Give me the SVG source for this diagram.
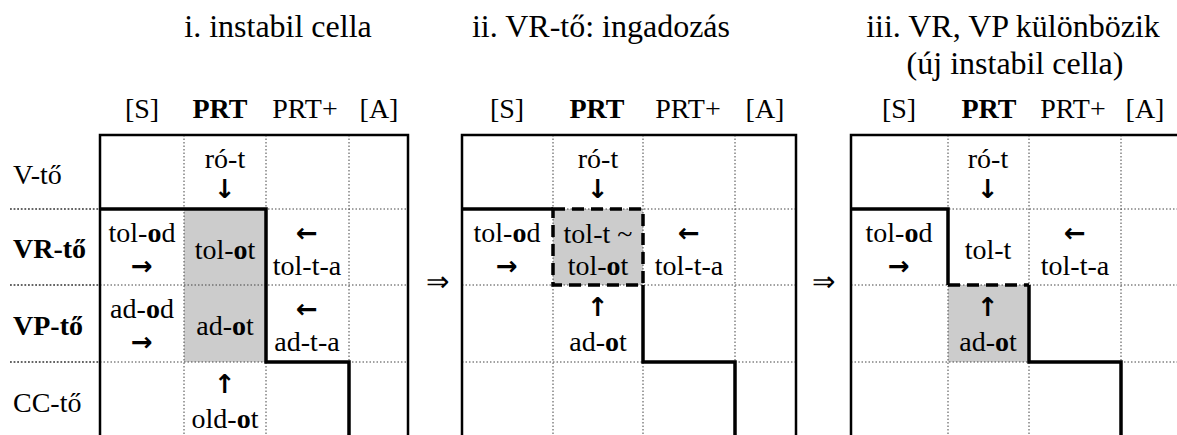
<svg xmlns="http://www.w3.org/2000/svg" width="1177" height="435" viewBox="0 0 1177 435" font-family="'Liberation Serif', 'Times New Roman', serif">
<style>
text{font-family:'Liberation Serif','Times New Roman',serif;font-size:28px;fill:#000}
.t{font-size:32px}
.c{text-anchor:middle}
.b{font-weight:bold}
.ar{font-family:'DejaVu Sans',sans-serif;font-weight:bold;font-size:26px;text-anchor:middle}
.dot{stroke:#444;stroke-width:1;stroke-dasharray:1.5 2;fill:none}
.dotL{stroke:#333;stroke-width:1.4;stroke-dasharray:1.8 1.8;fill:none}
.bd{stroke:#000;stroke-width:2.5;fill:none}
.st{stroke:#000;stroke-width:3.5;fill:none;stroke-linejoin:miter}
.ds{stroke:#000;stroke-width:3.5;fill:none;stroke-dasharray:12 7}
.sh{fill:#cccccc}
</style>

<g id="titles">
<text class="t c" x="278" y="37">i. instabil cella</text>
<text class="t c" x="601" y="37">ii. VR-tő: ingadozás</text>
<text class="t c" x="1013" y="37">iii. VR, VP különbözik</text>
<text class="t c" x="1015" y="74">(új instabil cella)</text>
</g>

<g id="row-labels">
<line class="dotL" x1="10" y1="209" x2="100" y2="209"/>
<line class="dotL" x1="10" y1="285" x2="100" y2="285"/>
<line class="dotL" x1="10" y1="362" x2="100" y2="362"/>
<text x="13" y="184">V-tő</text>
<text class="b" x="13" y="258">VR-tő</text>
<text class="b" x="13" y="335">VP-tő</text>
<text x="13" y="412">CC-tő</text>
</g>

<g id="panel1">
<rect class="sh" x="184" y="209" width="82" height="153"/>
<line class="dot" x1="184" y1="135" x2="184" y2="435"/>
<line class="dot" x1="266" y1="135" x2="266" y2="435"/>
<line class="dot" x1="349" y1="135" x2="349" y2="435"/>
<line class="dot" x1="100" y1="209" x2="408" y2="209"/>
<line class="dot" x1="100" y1="285" x2="408" y2="285"/>
<line class="dot" x1="100" y1="362" x2="408" y2="362"/>
<path class="bd" d="M100,435 V135 H408 V435"/>
<path class="st" d="M100,209 H266 V362 H349 V435"/>
<text class="c" x="142" y="118">[S]</text>
<text class="c b" x="220" y="118">PRT</text>
<text class="c" x="305" y="118">PRT+</text>
<text class="c" x="379" y="118">[A]</text>
<text class="c" x="225" y="168">ró-t</text>
<text class="ar" x="225" y="198">↓</text>
<text class="c" x="142" y="242">tol-<tspan class="b">o</tspan>d</text>
<text class="ar" x="142" y="275">→</text>
<text class="c" x="225" y="259">tol-<tspan class="b">o</tspan>t</text>
<text class="ar" x="307" y="242">←</text>
<text class="c" x="307" y="275">tol-t-a</text>
<text class="c" x="142" y="318">ad-<tspan class="b">o</tspan>d</text>
<text class="ar" x="142" y="351">→</text>
<text class="c" x="225" y="335">ad-<tspan class="b">o</tspan>t</text>
<text class="ar" x="307" y="318">←</text>
<text class="c" x="307" y="351">ad-t-a</text>
<text class="ar" x="225" y="393">↑</text>
<text class="c" x="225" y="428">old-<tspan class="b">o</tspan>t</text>
</g>

<g id="arrow1"><text class="c" x="437" y="291">⇒</text></g>

<g id="panel2">
<rect class="sh" x="553" y="209" width="90" height="76"/>
<line class="dot" x1="553" y1="135" x2="553" y2="435"/>
<line class="dot" x1="643" y1="135" x2="643" y2="435"/>
<line class="dot" x1="735" y1="135" x2="735" y2="435"/>
<line class="dot" x1="462" y1="209" x2="796" y2="209"/>
<line class="dot" x1="462" y1="285" x2="796" y2="285"/>
<line class="dot" x1="462" y1="362" x2="796" y2="362"/>
<path class="bd" d="M462,435 V135 H796 V435"/>
<path class="st" d="M462,209 H553"/>
<rect class="ds" x="553" y="209" width="90" height="76"/>
<path class="st" d="M643,285 V362 H735 V435"/>
<text class="c" x="507" y="118">[S]</text>
<text class="c b" x="597" y="118">PRT</text>
<text class="c" x="688" y="118">PRT+</text>
<text class="c" x="765" y="118">[A]</text>
<text class="c" x="598" y="168">ró-t</text>
<text class="ar" x="598" y="198">↓</text>
<text class="c" x="507" y="242">tol-<tspan class="b">o</tspan>d</text>
<text class="ar" x="507" y="275">→</text>
<text class="c" x="598" y="243">tol-t ~</text>
<text class="c" x="598" y="275">tol-<tspan class="b">o</tspan>t</text>
<text class="ar" x="689" y="242">←</text>
<text class="c" x="689" y="275">tol-t-a</text>
<text class="ar" x="598" y="316">↑</text>
<text class="c" x="598" y="351">ad-<tspan class="b">o</tspan>t</text>
</g>

<g id="arrow2"><text class="c" x="823" y="291">⇒</text></g>

<g id="panel3">
<rect class="sh" x="948" y="285" width="81" height="77"/>
<line class="dot" x1="948" y1="135" x2="948" y2="435"/>
<line class="dot" x1="1029" y1="135" x2="1029" y2="435"/>
<line class="dot" x1="1121" y1="135" x2="1121" y2="435"/>
<line class="dot" x1="851" y1="209" x2="1177" y2="209"/>
<line class="dot" x1="851" y1="285" x2="1177" y2="285"/>
<line class="dot" x1="851" y1="362" x2="1177" y2="362"/>
<path class="bd" d="M851,435 V135 H1177"/>
<path class="st" d="M851,209 H948 V285"/>
<path class="ds" d="M948,285 H1029"/>
<path class="st" d="M1029,285 V362 H1121 V435"/>
<text class="c" x="899" y="118">[S]</text>
<text class="c b" x="989" y="118">PRT</text>
<text class="c" x="1073" y="118">PRT+</text>
<text class="c" x="1145" y="118">[A]</text>
<text class="c" x="988" y="168">ró-t</text>
<text class="ar" x="988" y="198">↓</text>
<text class="c" x="899" y="242">tol-<tspan class="b">o</tspan>d</text>
<text class="ar" x="899" y="275">→</text>
<text class="c" x="988" y="259">tol-t</text>
<text class="ar" x="1075" y="242">←</text>
<text class="c" x="1075" y="275">tol-t-a</text>
<text class="ar" x="988" y="316">↑</text>
<text class="c" x="988" y="351">ad-<tspan class="b">o</tspan>t</text>
</g>
</svg>
